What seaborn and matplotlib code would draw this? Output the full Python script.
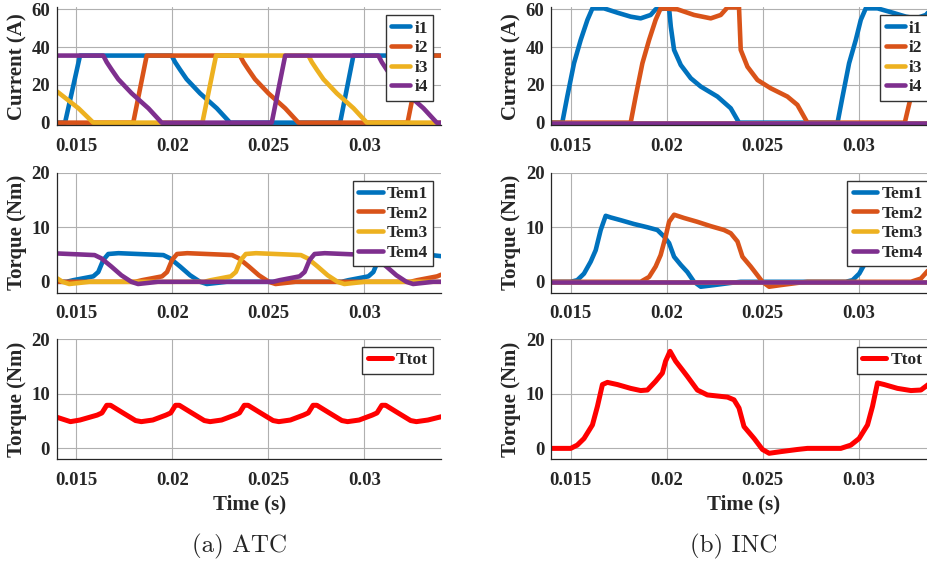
import seaborn as sns
import matplotlib.pyplot as plt

# ---- ATC (left column) ----
atc_i1_t = [0.014, 0.01442, 0.0152, 0.01997, 0.02015, 0.02041, 0.02075, 0.02145, 0.02232, 0.02301, 0.02874,
            0.02943, 0.034]
atc_i1_v = [0, 0, 35.5, 35.5, 32, 28, 23, 15.5, 7.6, 0, 0, 35.5, 35.5]
atc_i2_t = [0.014, 0.01797, 0.01867, 0.02353, 0.02371, 0.02397, 0.02431, 0.02501, 0.02588, 0.02657, 0.03225,
            0.03295, 0.034]
atc_i2_v = [0, 0, 35.5, 35.5, 32, 28, 23, 15.5, 7.6, 0, 0, 35.5, 35.5]
atc_i3_t = [0.014, 0.01512, 0.01589, 0.02157, 0.02228, 0.02709, 0.02727, 0.02753, 0.02787, 0.02857, 0.02944,
            0.03013, 0.034]
atc_i3_v = [16.5, 7.6, 0, 0, 35.5, 35.5, 32, 28, 23, 15.5, 7.6, 0, 0]
atc_i4_t = [0.014, 0.01641, 0.01659, 0.01685, 0.01719, 0.01789, 0.01876, 0.01945, 0.02518, 0.02588,
            0.03073, 0.03091, 0.03117, 0.03151, 0.03221, 0.03308, 0.03377, 0.034]
atc_i4_v = [35.5, 35.5, 32, 28, 23, 15.5, 7.6, 0, 0, 35.5, 35.5, 32, 28, 23, 15.5, 7.6, 0, 0]

atc_tem1_t = [0.014, 0.0145, 0.01485, 0.01589, 0.01615, 0.01641, 0.01667, 0.0172, 0.0189, 0.01954, 0.01989,
              0.02041, 0.02093, 0.02145, 0.0218, 0.02232, 0.02284, 0.02882, 0.02917, 0.03021, 0.03047,
              0.03073, 0.03099, 0.03152, 0.03322, 0.034]
atc_tem1_v = [0, 0, 0.3, 1.0, 1.8, 4.0, 5.1, 5.25, 5.0, 4.9, 4.3, 2.8, 1.2, 0, -0.4, -0.2, 0, 0, 0.3, 1.0,
              1.8, 4.0, 5.1, 5.25, 5.0, 4.7]
atc_tem2_t = [0.014, 0.01808, 0.01843, 0.01947, 0.01973, 0.01999, 0.02025, 0.02078, 0.02248, 0.02312, 0.02347,
              0.02399, 0.02451, 0.02503, 0.02538, 0.0259, 0.02642, 0.0324, 0.03275, 0.03379, 0.034]
atc_tem2_v = [0, 0, 0.3, 1.0, 1.8, 4.0, 5.1, 5.25, 5.0, 4.9, 4.3, 2.8, 1.2, 0, -0.4, -0.2, 0, 0, 0.3, 1.0, 1.3]
atc_tem3_t = [0.014, 0.01429, 0.01464, 0.01516, 0.01568, 0.02166, 0.02201, 0.02305, 0.02331, 0.02357, 0.02383,
              0.02436, 0.02606, 0.0267, 0.02705, 0.02757, 0.02809, 0.02861, 0.02896, 0.02948, 0.03, 0.034]
atc_tem3_v = [0.65, 0, -0.4, -0.2, 0, 0, 0.3, 1.0, 1.8, 4.0, 5.1, 5.25, 5.0, 4.9, 4.3, 2.8, 1.2, 0, -0.4,
              -0.2, 0, 0]
atc_tem4_t = [0.014, 0.01532, 0.01596, 0.01631, 0.01683, 0.01735, 0.01787, 0.01822, 0.01874, 0.01926, 0.02524,
              0.02559, 0.02663, 0.02689, 0.02715, 0.02741, 0.02794, 0.02964, 0.03028, 0.03063, 0.03115,
              0.03167, 0.03219, 0.03254, 0.03306, 0.03358, 0.034]
atc_tem4_v = [5.2, 5.0, 4.9, 4.3, 2.8, 1.2, 0, -0.4, -0.2, 0, 0, 0.3, 1.0, 1.8, 4.0, 5.1, 5.25, 5.0, 4.9,
              4.3, 2.8, 1.2, 0, -0.4, -0.2, 0, 0]

atc_ttot_t = [0.014, 0.0147, 0.0152, 0.01609, 0.01634, 0.01659, 0.01679, 0.01739, 0.01809, 0.01839, 0.01899,
              0.01967, 0.01992, 0.02017, 0.02037, 0.02097, 0.02167, 0.02197, 0.02257,
              0.02325, 0.0235, 0.02375, 0.02395, 0.02455, 0.02525, 0.02555, 0.02615,
              0.02683, 0.02708, 0.02733, 0.02753, 0.02813, 0.02883, 0.02913, 0.02973,
              0.03041, 0.03066, 0.03091, 0.03111, 0.03171, 0.03241, 0.03271, 0.03331, 0.034]
atc_ttot_v = [5.7, 4.9, 5.2, 6.1, 6.5, 7.9, 7.9, 6.6, 5.1, 4.9, 5.2,
              6.1, 6.5, 7.9, 7.9, 6.6, 5.1, 4.9, 5.2,
              6.1, 6.5, 7.9, 7.9, 6.6, 5.1, 4.9, 5.2,
              6.1, 6.5, 7.9, 7.9, 6.6, 5.1, 4.9, 5.2,
              6.1, 6.5, 7.9, 7.9, 6.6, 5.1, 4.9, 5.2, 5.8]

# ---- INC (right column) ----
inc_i1_t = [0.014, 0.01457, 0.01483, 0.01518, 0.01553, 0.01588, 0.01614, 0.01674, 0.01744, 0.01813, 0.01865,
            0.01917, 0.01943, 0.02013, 0.02022, 0.02039, 0.02074, 0.02126, 0.02178, 0.02265, 0.02334, 0.02377,
            0.0289, 0.02916, 0.0295, 0.02985, 0.03011, 0.03037, 0.03098, 0.03177, 0.03246, 0.03298, 0.0335,
            0.03376, 0.034]
inc_i1_v = [0, 0, 13.8, 31.4, 43.8, 54.4, 60.5, 60.5, 58.2, 56.1, 55.2, 57, 60, 60.5, 50.8, 38.5, 30.5, 23.5,
            19.1, 13.8, 7.6, 0, 0, 13.8, 31.4, 43.8, 54.4, 60.5, 60.5, 58.2, 56.1, 55.2, 57, 60, 60.5]
inc_i2_t = [0.014, 0.01813, 0.01839, 0.01874, 0.01909, 0.01943, 0.01969, 0.02056, 0.02143, 0.0223, 0.02282,
            0.02317, 0.02377, 0.02386, 0.02421, 0.02473, 0.02542, 0.02629, 0.02681, 0.02733, 0.0324, 0.03272,
            0.03306, 0.03341, 0.03376, 0.034]
inc_i2_v = [0, 0, 13.8, 31.4, 43.8, 54.4, 60.5, 60, 57, 55.2, 57, 61, 61, 38.5, 29.6, 22.6, 18.2, 13.8, 9.4,
            0, 0, 13.8, 31.4, 43.8, 54.4, 60]
inc_i3_t = [0.014, 0.034]
inc_i3_v = [0, 0]
inc_i4_t = [0.014, 0.034]
inc_i4_v = [0, 0]

inc_tem1_t = [0.014, 0.015, 0.01535, 0.0157, 0.01605, 0.01631, 0.01657, 0.01683, 0.01709, 0.01761, 0.0183,
              0.019, 0.01952, 0.01987, 0.02013, 0.02039, 0.02074, 0.02108, 0.02143, 0.02178, 0.02247, 0.02334,
              0.02386, 0.02933, 0.02968, 0.03003, 0.03038, 0.03064, 0.0309, 0.03116, 0.03142, 0.03194, 0.03263,
              0.03333, 0.034]
inc_tem1_v = [0, 0, 0.3, 1.5, 3.7, 5.8, 9.5, 12.1, 11.8, 11.3, 10.6, 10.0, 9.5, 8.3, 7.1, 4.6, 3.1, 1.8, 0,
              -0.9, -0.6, -0.2, 0, 0, 0.3, 1.5, 3.7, 5.8, 9.5, 12.1, 11.8, 11.3, 10.6, 10.0, 9.6]
inc_tem2_t = [0.014, 0.01865, 0.01909, 0.01943, 0.01969, 0.01995, 0.02013, 0.02039, 0.02091, 0.0216, 0.0223,
              0.02299, 0.02334, 0.02369, 0.02395, 0.02438, 0.02473, 0.02499, 0.02534, 0.02594, 0.02681,
              0.02733, 0.03272, 0.03324, 0.03362, 0.034]
inc_tem2_v = [0, 0, 0.9, 2.8, 4.9, 8.3, 11.0, 12.3, 11.7, 11.0, 10.2, 9.5, 8.9, 7.4, 4.6, 2.8, 1.2, 0, -0.9,
              -0.6, -0.2, 0, 0, 0.6, 2.1, 3.8]
inc_tem3_t = [0.014, 0.034]
inc_tem3_v = [0, 0]
inc_tem4_t = [0.014, 0.034]
inc_tem4_v = [0, 0]

inc_ttot_t = [0.014, 0.01501, 0.01535, 0.0157, 0.01614, 0.0164, 0.01666, 0.01692, 0.01744, 0.01813, 0.01865,
              0.019, 0.01943, 0.01978, 0.01995, 0.02018, 0.02047, 0.02082, 0.02108, 0.0216, 0.02212, 0.02317,
              0.02351, 0.02377, 0.02403, 0.02456, 0.02499, 0.02534, 0.02594, 0.02681, 0.02733, 0.02907,
              0.02959, 0.03002, 0.03046, 0.03072, 0.03098, 0.03133, 0.03202, 0.03272, 0.03324, 0.03362, 0.034]
inc_ttot_v = [0, 0, 0.6, 1.8, 4.3, 7.7, 11.7, 12.1, 11.7, 11.0, 10.6, 10.7, 12.3, 13.8, 16.0, 17.8, 16.0, 14.4,
              13.2, 10.7, 9.8, 9.4, 8.9, 7.4, 4.0, 1.8, -0.2, -0.9, -0.6, -0.2, 0, 0, 0.6, 1.8, 4.3, 7.7,
              12.0, 11.7, 11.0, 10.6, 10.7, 11.7, 12.5]

phase_colors = ['#0072BD', '#D95319', '#EDB120', '#7E2F8E']
xticks = [0.015, 0.02, 0.025, 0.03]
xtick_labels = ['0.015', '0.02', '0.025', '0.03']

sns.set_style('white')
plt.rcParams['font.family'] = ['Liberation Serif', 'DejaVu Serif']
plt.rcParams['font.weight'] = 'bold'

fig = plt.figure(figsize=(9.28, 5.65), dpi=100)
col_left = [0.0614, 0.5941]
col_w = 0.414
rows = [(0.7779, 0.209), (0.4819, 0.2124), (0.1871, 0.2124)]


def setup_axes(ax, ylim, yticks, ylabel, xlabel=None):
    ax.set_xlim(0.014, 0.034)
    ax.set_ylim(*ylim)
    ax.set_xticks(xticks)
    ax.set_xticklabels(xtick_labels)
    ax.set_yticks(yticks)
    ax.grid(True, color='#b0b0b0', linewidth=0.8)
    ax.set_axisbelow(True)
    for s in ['top', 'right']:
        ax.spines[s].set_visible(False)
    for s in ['left', 'bottom']:
        ax.spines[s].set_color('#262626')
        ax.spines[s].set_linewidth(0.9)
    ax.tick_params(direction='in', length=3, width=0.8, colors='#262626', labelsize=13.5)
    ax.tick_params(axis='x', pad=9)
    ax.tick_params(axis='y', pad=5)
    for lab in ax.get_xticklabels() + ax.get_yticklabels():
        lab.set_fontweight('bold')
    ax.set_ylabel(ylabel, fontsize=15, fontweight='bold', labelpad=3)
    if xlabel:
        ax.set_xlabel(xlabel, fontsize=15, fontweight='bold', labelpad=4)
    else:
        ax.set_xlabel('')


def add_legend(ax, hl):
    ax.legend(loc='upper right', prop={'weight': 'bold', 'size': 12.5}, handlelength=hl,
              handletextpad=0.25, labelspacing=0.2, borderpad=0.3, borderaxespad=0.45,
              frameon=True, fancybox=False, framealpha=1, edgecolor='#333333')


panels = [
    dict(cur=[(atc_i1_t, atc_i1_v), (atc_i2_t, atc_i2_v), (atc_i3_t, atc_i3_v), (atc_i4_t, atc_i4_v)],
         tem=[(atc_tem1_t, atc_tem1_v), (atc_tem2_t, atc_tem2_v), (atc_tem3_t, atc_tem3_v),
              (atc_tem4_t, atc_tem4_v)],
         tot=(atc_ttot_t, atc_ttot_v)),
    dict(cur=[(inc_i1_t, inc_i1_v), (inc_i2_t, inc_i2_v), (inc_i3_t, inc_i3_v), (inc_i4_t, inc_i4_v)],
         tem=[(inc_tem1_t, inc_tem1_v), (inc_tem2_t, inc_tem2_v), (inc_tem3_t, inc_tem3_v),
              (inc_tem4_t, inc_tem4_v)],
         tot=(inc_ttot_t, inc_ttot_v)),
]

for c, p in enumerate(panels):
    ax1 = fig.add_axes([col_left[c], rows[0][0], col_w, rows[0][1]])
    for k, (t, v) in enumerate(p['cur']):
        sns.lineplot(x=t, y=v, color=phase_colors[k], linewidth=3.3, label=f'i{k + 1}',
                     sort=False, estimator=None, ax=ax1)
    setup_axes(ax1, (-1.5, 61), [0, 20, 40, 60], 'Current (A)')
    add_legend(ax1, 1.1)

    ax2 = fig.add_axes([col_left[c], rows[1][0], col_w, rows[1][1]])
    for k, (t, v) in enumerate(p['tem']):
        sns.lineplot(x=t, y=v, color=phase_colors[k], linewidth=3.3, label=f'Tem{k + 1}',
                     sort=False, estimator=None, ax=ax2)
    setup_axes(ax2, (-2, 20), [0, 10, 20], 'Torque (Nm)')
    add_legend(ax2, 1.4)

    ax3 = fig.add_axes([col_left[c], rows[2][0], col_w, rows[2][1]])
    t, v = p['tot']
    sns.lineplot(x=t, y=v, color='#FF0000', linewidth=3.6, label='Ttot',
                 sort=False, estimator=None, ax=ax3)
    setup_axes(ax3, (-2, 20), [0, 10, 20], 'Torque (Nm)', 'Time (s)')
    add_legend(ax3, 1.4)

fig.text(240 / 928, 1 - 546 / 565, '(a) ATC', ha='center', va='center', fontsize=18,
         family='cmr10', fontweight='normal')
fig.text(734 / 928, 1 - 546 / 565, '(b) INC', ha='center', va='center', fontsize=18,
         family='cmr10', fontweight='normal')

fig.savefig('out.png', dpi=100)
